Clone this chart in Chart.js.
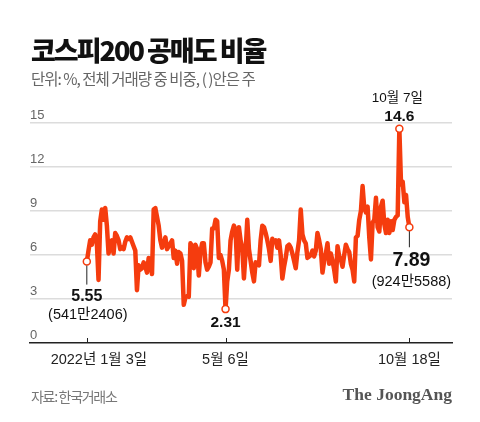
<!DOCTYPE html>
<html>
<head>
<meta charset="utf-8">
<script src="https://cdn.jsdelivr.net/npm/chart.js@4.4.1/dist/chart.umd.min.js"></script>
<style>
    html, body { margin: 0; padding: 0; background: #fff; }
    #wrap { position: relative; width: 480px; height: 422px; overflow: hidden; }
    #chart { position: absolute; left: 0; top: 0; }
    .txt { position: absolute; white-space: nowrap; line-height: 1; }
    #title { left: 31px; top: 30px; font: 900 27px 'Noto Sans CJK KR', sans-serif; letter-spacing: -2px; color: #111; }
    #sub { left: 31px; top: 67px; font: 400 15.5px 'Noto Sans CJK KR', sans-serif; letter-spacing: -1px; color: #666; }
    #source { left: 31px; top: 386px; font: 400 14px 'Noto Sans CJK KR', sans-serif; letter-spacing: -1.3px; color: #777; }
    #logo { right: 28px; top: 384px; font: 700 17.5px 'Liberation Serif', serif; color: #555; }
</style>
</head>
<body>
<div id="wrap">
    <canvas id="chart" width="480" height="422"></canvas>
    <div class="txt" id="title">코스피200 공매도 비율</div>
    <div class="txt" id="sub">단위: %, 전체 거래량 중 비중, ( )안은 주</div>
    <div class="txt" id="source">자료: 한국거래소</div>
    <div class="txt" id="logo">The JoongAng</div>
</div>
<script>
// 2022-01-03 ~ 2022-10-18, one value per trading day (%)
const shortRatio = [
    5.55, 6.3, 7.0, 6.7, 7.2, 7.4, 6.8, 4.3, 8.3, 9.1,
    8.4, 9.2, 8.0, 6.1, 6.6, 7.0, 6.1, 7.5, 7.3, 7.0,
    6.4, 6.5, 6.4, 6.9, 7.2, 7.1, 7.2, 6.9, 6.6, 6.3,
    3.6, 5.3, 5.0, 5.1, 5.5, 5.2, 4.8, 5.8, 5.4, 4.7,
    9.1, 9.2, 8.6, 8.0, 7.0, 6.5, 6.8, 7.2, 6.4, 6.6,
    6.8, 7.0, 5.8, 6.3, 5.4, 6.2, 6.1, 5.6, 2.6, 3.1,
    3.2, 3.15, 6.8, 6.6, 5.1, 6.7, 6.4, 4.6, 6.2, 6.8,
    6.8, 5.5, 5.0, 5.2, 5.5, 7.8, 7.8, 8.4, 8.3, 5.8,
    6.0, 5.6, 5.0, 2.31, 4.2, 5.0, 7.0, 7.6, 8.0, 7.7,
    5.0, 7.9, 7.0, 6.5, 4.4, 6.2, 8.4, 6.4, 5.6, 4.8,
    4.2, 5.5, 5.4, 5.3, 7.0, 8.0, 7.9, 7.5, 7.0, 6.4,
    5.6, 7.1, 6.9, 7.0, 6.5, 7.0, 6.0, 4.4, 5.2, 5.8,
    6.6, 6.7, 6.5, 6.1, 5.6, 5.1, 6.2, 7.0, 9.1, 7.4,
    7.0, 6.8, 5.8, 5.9, 6.0, 6.3, 5.9, 6.3, 7.5, 7.0,
    6.4, 4.8, 5.6, 6.1, 6.8, 5.4, 6.1, 5.6, 5.0, 4.2,
    6.6, 5.9, 5.7, 5.2, 6.0, 6.7, 6.4, 6.2, 5.4, 5.0,
    4.2, 7.2, 7.3, 8.4, 9.0, 10.7, 9.2, 8.9, 9.3, 7.2,
    5.7, 8.2, 8.4, 9.9, 7.9, 7.6, 9.3, 9.7, 8.1, 7.5,
    8.4, 7.5, 8.3, 7.7, 8.4, 8.6, 8.7, 14.6, 10.8, 11.0,
    9.6, 10.1, 8.6, 7.89
];

// x-axis labels by trading-day index
const tickIndex = [0, 83, 193];
const tickText = ['      2022년 1월 3일', '5월 6일', '10월 18일'];

const yTicks = [0, 3, 6, 9, 12, 15];

// annotated points: index, value label, extra label
const noteIndex = [0, 83, 187, 193];
const noteValue = ['5.55', '2.31', '14.6', '7.89'];
const noteExtra = ['(541만2406)', '', '10월 7일', '(924만5588)'];

const LINE = '#f53c0e';
const FONT = "'Liberation Sans', 'Noto Sans CJK KR', sans-serif";

const notesPlugin = {
    id: 'notes',
    afterDraw(chart) {
        const ctx = chart.ctx;
        const meta = chart.getDatasetMeta(0);
        const xs = chart.scales.x;
        const bottom = chart.chartArea.bottom;
        ctx.save();

        // short tick marks pointing up from the axis
        ctx.strokeStyle = '#222';
        ctx.lineWidth = 1;
        tickIndex.forEach(i => {
            const x = Math.round(xs.getPixelForValue(i)) + 0.5;
            ctx.beginPath();
            ctx.moveTo(x, bottom);
            ctx.lineTo(x, bottom - 5);
            ctx.stroke();
        });

        ctx.textAlign = 'center';
        ctx.textBaseline = 'middle';
        ctx.fillStyle = '#111';
        noteIndex.forEach((idx, n) => {
            const pt = meta.data[idx];
            const x = pt.x, y = pt.y;
            if (n === 0) {
                ctx.beginPath();
                ctx.moveTo(x, y + 4);
                ctx.lineTo(x, y + 23);
                ctx.stroke();
                ctx.font = 'bold 16px ' + FONT;
                ctx.fillText(noteValue[n], x, y + 35);
                ctx.font = '14.5px ' + FONT;
                ctx.fillText(noteExtra[n], x + 1, y + 53);
            } else if (n === 1) {
                ctx.font = 'bold 15.5px ' + FONT;
                ctx.fillText(noteValue[n], x, y + 14);
            } else if (n === 2) {
                ctx.font = 'bold 15.5px ' + FONT;
                ctx.fillText(noteValue[n], x, y - 12);
                ctx.font = '13.5px ' + FONT;
                ctx.fillText(noteExtra[n], x - 2, y - 31);
            } else {
                ctx.beginPath();
                ctx.moveTo(x, y + 4);
                ctx.lineTo(x, y + 20);
                ctx.stroke();
                ctx.font = 'bold 19.5px ' + FONT;
                ctx.fillText(noteValue[n], x + 2, y + 33);
                ctx.font = '14.5px ' + FONT;
                ctx.fillText(noteExtra[n], x + 2, y + 55);
            }
        });
        ctx.restore();
    }
};

const ctx = document.getElementById('chart').getContext('2d');
new Chart(ctx, {
    type: 'line',
    data: {
        datasets: [{
            data: shortRatio.map((v, i) => ({ x: i, y: v })),
            borderColor: LINE,
            borderWidth: 4.5,
            borderJoinStyle: 'round',
            tension: 0,
            pointRadius: c => noteIndex.includes(c.dataIndex) ? 3.5 : 0,
            pointBackgroundColor: '#fff',
            pointBorderColor: LINE,
            pointBorderWidth: 1.5
        }]
    },
    options: {
        responsive: false,
        animation: false,
        layout: { padding: { left: 30, right: 28, top: 101, bottom: 49 } },
        plugins: { legend: { display: false }, tooltip: { enabled: false } },
        scales: {
            x: {
                type: 'linear',
                min: -34,
                max: 218.5,
                afterBuildTicks: s => { s.ticks = tickIndex.map(v => ({ value: v })); },
                afterFit: s => { s.height = 30; },
                grid: { display: false, drawTicks: false },
                border: { display: true, color: '#222', width: 1.5 },
                ticks: {
                    autoSkip: false,
                    maxRotation: 0,
                    padding: 8,
                    color: '#222',
                    font: { family: FONT, size: 14.5 },
                    callback: v => tickText[tickIndex.indexOf(v)]
                }
            },
            y: {
                min: 0,
                max: 16.5,
                afterBuildTicks: s => { s.ticks = yTicks.map(v => ({ value: v })); },
                grid: {
                    drawTicks: false,
                    color: c => c.tick.value === 0 ? 'rgba(0,0,0,0)' : '#dcdcdc',
                    lineWidth: 1.5
                },
                border: { display: false },
                ticks: {
                    mirror: true,
                    padding: 0,
                    labelOffset: -8,
                    color: '#666',
                    font: { family: FONT, size: 13 }
                }
            }
        }
    },
    plugins: [notesPlugin]
});
</script>
</body>
</html>
